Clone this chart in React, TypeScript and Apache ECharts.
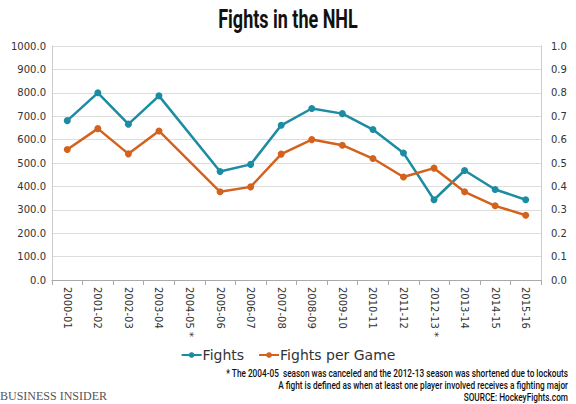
import React, { useEffect, useRef } from "react";
import * as echarts from "echarts";

const seasons = [
  "2000-01", "2001-02", "2002-03", "2003-04", "2004-05 *", "2005-06", "2006-07", "2007-08",
  "2008-09", "2009-10", "2010-11", "2011-12", "2012-13 *", "2013-14", "2014-15", "2015-16",
];
const fights = [681, 800, 666, 787, null, 464, 494, 661, 733, 711, 643, 543, 343, 468, 387, 343];
const fightsPerGame = [0.558, 0.647, 0.539, 0.637, null, 0.377, 0.398, 0.538, 0.6, 0.576, 0.519, 0.44, 0.478, 0.377, 0.317, 0.277];
const footnotes = [
  "* The 2004-05  season was canceled and the 2012-13 season was shortened due to lockouts",
  "A fight is defined as when at least one player involved receives a fighting major",
  "SOURCE: HockeyFights.com",
];

const TEAL = "#1b8ca2";
const ORANGE = "#d5621c";
const AXIS_FONT = "'DejaVu Sans', Verdana, sans-serif";
const NARROW = "Roboto, 'Liberation Sans', sans-serif";

export default function App() {
  const ref = useRef<HTMLDivElement>(null);
  useEffect(() => {
    const chart = echarts.init(ref.current!, null, { renderer: "svg" });
    chart.setOption({
      animation: false,
      backgroundColor: "#fff",
      legend: {
        top: 343,
        left: "center",
        itemWidth: 20,
        itemHeight: 7,
        itemGap: 14,
        textStyle: { fontFamily: AXIS_FONT, fontSize: 14, color: "#333", padding: [0, 0, 0, -4] },
        data: ["Fights", "Fights per Game"],
      },
      grid: { left: 52, right: 35, top: 46, bottom: 124 },
      xAxis: {
        type: "category",
        data: seasons,
        boundaryGap: true,
        axisLine: { lineStyle: { color: "#aaa" } },
        axisTick: { show: true, alignWithLabel: false, lineStyle: { color: "#aaa" } },
        axisLabel: { rotate: -90, interval: 0, fontFamily: AXIS_FONT, fontSize: 10, color: "#333", margin: 7 },
      },
      yAxis: [
        {
          type: "value",
          min: 0,
          max: 1000,
          interval: 100,
          axisLine: { show: true, lineStyle: { color: "#ccc" } },
          axisTick: { show: false },
          splitLine: { lineStyle: { color: "#ddd" } },
          axisLabel: { formatter: (v: number) => v.toFixed(1), fontFamily: AXIS_FONT, fontSize: 10, color: "#333", margin: 6 },
        },
        {
          type: "value",
          min: 0,
          max: 1,
          interval: 0.1,
          position: "right",
          axisLine: { show: true, lineStyle: { color: "#ccc" } },
          axisTick: { show: false },
          splitLine: { show: false },
          axisLabel: { formatter: (v: number) => v.toFixed(1), fontFamily: AXIS_FONT, fontSize: 10, color: "#333", margin: 10 },
        },
      ],
      series: [
        {
          name: "Fights",
          type: "line",
          data: fights,
          yAxisIndex: 0,
          connectNulls: true,
          symbol: "circle",
          symbolSize: 7,
          color: TEAL,
          lineStyle: { width: 2.5, color: TEAL },
          itemStyle: { color: TEAL },
        },
        {
          name: "Fights per Game",
          type: "line",
          data: fightsPerGame,
          yAxisIndex: 1,
          connectNulls: true,
          symbol: "circle",
          symbolSize: 7,
          color: ORANGE,
          lineStyle: { width: 2.5, color: ORANGE },
          itemStyle: { color: ORANGE },
        },
      ],
      graphic: [
        {
          type: "text",
          x: 288,
          y: 7,
          scaleX: 0.72,
          originX: 0,
          originY: 0,
          style: {
            text: "Fights in the NHL",
            textAlign: "center",
            textVerticalAlign: "top",
            fontFamily: NARROW,
            fontSize: 25,
            fontWeight: "bold",
            fill: "#111",
          },
        },
        ...footnotes.map((t, i) => ({
          type: "text",
          x: 568,
          y: 368 + i * 12,
          scaleX: 0.75,
          originX: 0,
          originY: 0,
          style: {
            text: t,
            textAlign: "right",
            textVerticalAlign: "top",
            fontFamily: NARROW,
            fontSize: 11,
            fontWeight: 500,
            fill: "#111",
          },
        })),
        {
          type: "text",
          left: 0,
          top: 390,
          style: {
            text: "BUSINESS INSIDER",
            fontFamily: "'Liberation Serif', 'DejaVu Serif', serif",
            fontSize: 12,
            fill: "#555",
          },
        },
      ],
    });
    return () => chart.dispose();
  }, []);
  return <div ref={ref} style={{ width: 576, height: 404, position: "absolute", left: 0, top: 0 }} />;
}
